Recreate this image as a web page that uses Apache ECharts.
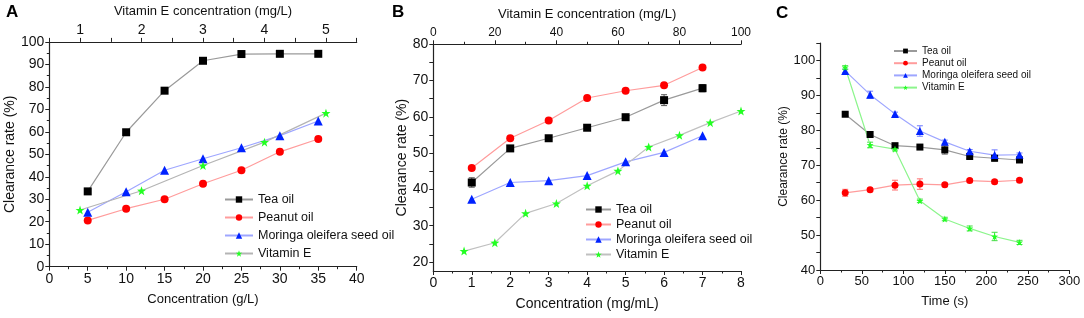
<!DOCTYPE html>
<html>
<head>
<meta charset="utf-8">
<script src="https://cdn.jsdelivr.net/npm/echarts@6/dist/echarts.min.js"></script>
<style>
  html, body { margin: 0; padding: 0; background: #fff; }
  #chart { width: 1084px; height: 318px; }
</style>
</head>
<body>
<div id="chart"></div>
<script>
// ---- data ----
// panel A (oils on bottom axis g/L, vitamin E on top axis mg/L)
let concA = [5, 10, 15, 20, 25, 30, 35];
let teaA = [33.5, 59.8, 78.3, 91.6, 94.6, 94.7, 94.7];
let peanutA = [20.6, 25.8, 30.0, 36.9, 42.9, 51.1, 56.8];
let moringaA = [24.2, 33.3, 42.9, 48.0, 52.9, 58.3, 64.8];
let vitEConcA = [1, 2, 3, 4, 5];
let vitEA = [25.2, 33.8, 45.0, 55.4, 68.3];

// panel B (oils on bottom axis mg/mL, vitamin E on top axis mg/L)
let concB = [1, 2, 3, 4, 5, 6, 7];
let teaB = [41.9, 51.3, 54.1, 57.0, 59.9, 64.6, 67.9];
let teaErrB = [1.3, 0.5, 0.6, 0.4, 0.5, 1.5, 1.0];
let peanutB = [45.9, 54.1, 59.0, 65.2, 67.2, 68.7, 73.6];
let moringaB = [37.3, 41.9, 42.4, 43.8, 47.6, 50.2, 54.8];
let vitEConcB = [10, 20, 30, 40, 50, 60, 70, 80, 90, 100];
let vitEB = [23.0, 25.3, 33.4, 36.1, 41.0, 45.1, 51.7, 54.9, 58.4, 61.6];

// panel C (time course)
let timeC = [30, 60, 90, 120, 150, 180, 210, 240];
let teaC = [84.6, 78.8, 75.6, 75.2, 74.4, 72.5, 72.0, 71.5];
let teaErrC = [0.4, 0.8, 0.5, 0.3, 1.2, 0.5, 0.8, 0.4];
let peanutC = [62.1, 63.0, 64.3, 64.6, 64.4, 65.6, 65.3, 65.7];
let peanutErrC = [1.0, 0.5, 1.4, 1.5, 0.5, 0.5, 0.5, 0.5];
let moringaC = [97.0, 90.2, 84.7, 79.8, 76.7, 74.0, 72.9, 73.0];
let moringaErrC = [0.5, 1.0, 0.5, 1.5, 0.5, 0.5, 1.5, 0.5];
let vitEC = [98.0, 75.8, 74.6, 59.8, 54.6, 51.9, 49.6, 47.9];
let vitEErrC = [0.5, 0.8, 0.5, 0.5, 0.5, 0.7, 1.2, 0.6];

// tick labels
let yTicksB = [20, 30, 40, 50, 60, 70, 80];
let yMinorB = [20, 25, 30, 35, 40, 45, 50, 55, 60, 65, 70, 75, 80];
let topLabelsA = [1, 2, 3, 4, 5];
let topTicksA = [0.5, 1, 1.5, 2, 2.5, 3, 3.5, 4, 4.5, 5, 5.5];
let yTicksC = [40, 50, 60, 70, 80, 90, 100];
let yMinorC = [40, 45, 50, 55, 60, 65, 70, 75, 80, 85, 90, 95, 100, 105];

let names = ['Tea oil', 'Peanut oil', 'Moringa oleifera seed oil', 'Vitamin E'];

var chart = echarts.init(document.getElementById('chart'));
var font = 'Arial, "Liberation Sans", sans-serif';
var axisCol = '#222';
var star = 'path://M0,-10 L2.4,-3.2 9.5,-3.1 3.8,1.2 5.9,8.1 0,4 -5.9,8.1 -3.8,1.2 -9.5,-3.1 -2.4,-3.2 Z';

function pairs(xs, ys) {
    return xs.map(function (x, i) { return [x, ys[i]]; });
}
function errPairs(xs, ys, es) {
    return xs.map(function (x, i) { return [x, ys[i] - es[i], ys[i] + es[i]]; });
}

function axisBase(extra) {
    var a = {
        type: 'value',
        splitLine: { show: false },
        axisLine: { show: true, onZero: false, lineStyle: { color: axisCol, width: 1.2 } },
        axisTick: { show: true, inside: false, length: 4, lineStyle: { color: axisCol } },
        minorTick: { show: true, splitNumber: 2, length: 2.5, lineStyle: { color: axisCol } },
        axisLabel: { color: '#111', fontSize: 14, fontFamily: font, margin: 5 },
        nameTextStyle: { color: '#111', fontSize: 13, fontFamily: font },
        nameLocation: 'middle'
    };
    return Object.assign(a, extra);
}

function lineSeries(name, data, color, lineColor, symbol, size, xi, yi) {
    return {
        name: name, type: 'line', data: data,
        xAxisIndex: xi, yAxisIndex: yi,
        symbol: symbol, symbolSize: size,
        itemStyle: { color: color },
        lineStyle: { color: lineColor, width: 1.2 },
        z: 3, animation: false
    };
}

// error bars drawn as a custom series
function errSeries(data, color, xi, yi) {
    return {
        type: 'custom', xAxisIndex: xi, yAxisIndex: yi, data: data, z: 2,
        animation: false, silent: true,
        renderItem: function (params, api) {
            var top = api.coord([api.value(0), api.value(2)]);
            var bot = api.coord([api.value(0), api.value(1)]);
            var w = 3;
            var st = { stroke: color, lineWidth: 1 };
            return {
                type: 'group', children: [
                    { type: 'line', shape: { x1: top[0], y1: top[1], x2: bot[0], y2: bot[1] }, style: st },
                    { type: 'line', shape: { x1: top[0] - w, y1: top[1], x2: top[0] + w, y2: top[1] }, style: st },
                    { type: 'line', shape: { x1: bot[0] - w, y1: bot[1], x2: bot[0] + w, y2: bot[1] }, style: st }
                ]
            };
        }
    };
}

function legend(prefix, left, top, itemW, itemH, gap, fs) {
    return {
        left: left, top: top, orient: 'vertical', padding: 0,
        itemWidth: itemW, itemHeight: itemH, itemGap: gap,
        data: names.map(function (n) { return prefix + n; }),
        formatter: function (n) { return n.slice(prefix.length); },
        textStyle: { color: '#111', fontSize: fs, fontFamily: font },
        selectedMode: false
    };
}

var option = {
    backgroundColor: '#fff',
    animation: false,
    grid: [
        { left: 49.3, top: 39.7, width: 307.4, height: 227 },
        { left: 433.3, top: 44.3, width: 307.7, height: 226.7 },
        { left: 820.3, top: 43, width: 249, height: 227 }
    ],
    xAxis: [
        axisBase({ gridIndex: 0, position: 'bottom', min: 0, max: 40, interval: 5,
            name: 'Concentration (g/L)', nameGap: 26 }),
        axisBase({ gridIndex: 0, position: 'top', min: 0.5, max: 5.5,
            name: 'Vitamin E concentration (mg/L)', nameGap: 21,
            minorTick: { show: false },
            axisTick: { show: true, length: 4, lineStyle: { color: axisCol }, customValues: topTicksA },
            axisLabel: { color: '#111', fontSize: 14, fontFamily: font, margin: 5, customValues: topLabelsA } }),
        axisBase({ gridIndex: 1, position: 'bottom', min: 0, max: 8, interval: 1,
            name: 'Concentration (mg/mL)', nameGap: 26,
            nameTextStyle: { color: '#111', fontSize: 14, fontFamily: font } }),
        axisBase({ gridIndex: 1, position: 'top', min: 0, max: 100, interval: 20,
            name: 'Vitamin E concentration (mg/L)', nameGap: 22,
            axisLabel: { color: '#111', fontSize: 12, fontFamily: font, margin: 6 } }),
        axisBase({ gridIndex: 2, position: 'bottom', min: 0, max: 300, interval: 50,
            name: 'Time (s)', nameGap: 25,
            axisLabel: { color: '#111', fontSize: 13, fontFamily: font, margin: 5 } })
    ],
    yAxis: [
        axisBase({ gridIndex: 0, min: 0, max: 100, interval: 10,
            name: 'Clearance rate (%)', nameGap: 29,
            nameTextStyle: { color: '#111', fontSize: 14, fontFamily: font } }),
        axisBase({ gridIndex: 1, min: 17.5, max: 80,
            name: 'Clearance rate (%)', nameGap: 24,
            nameTextStyle: { color: '#111', fontSize: 14, fontFamily: font },
            minorTick: { show: false },
            axisTick: { show: true, length: 4, lineStyle: { color: axisCol }, customValues: yMinorB },
            axisLabel: { color: '#111', fontSize: 14, fontFamily: font, margin: 5, customValues: yTicksB } }),
        axisBase({ gridIndex: 2, min: 40, max: 105,
            name: 'Clearance rate (%)', nameGap: 28,
            nameTextStyle: { color: '#111', fontSize: 12, fontFamily: font },
            minorTick: { show: false },
            axisTick: { show: true, length: 4, lineStyle: { color: axisCol }, customValues: yMinorC },
            axisLabel: { color: '#111', fontSize: 13, fontFamily: font, margin: 5, customValues: yTicksC } })
    ],
    legend: [
        legend('A:', 224, 193, 28, 8, 5, 12.5),
        legend('B:', 585, 203, 25, 8, 2, 12.5),
        legend('C:', 893, 46, 23, 6, 2.2, 10)
    ],
    graphic: [
        { type: 'text', left: 6, top: 4, style: { text: 'A', font: 'bold 17px ' + font, fill: '#000' } },
        { type: 'text', left: 392, top: 4, style: { text: 'B', font: 'bold 17px ' + font, fill: '#000' } },
        { type: 'text', left: 776, top: 5, style: { text: 'C', font: 'bold 17px ' + font, fill: '#000' } }
    ],
    series: [
        // panel A
        lineSeries('A:Tea oil', pairs(concA, teaA), '#000', '#9a9a9a', 'rect', 8, 0, 0),
        lineSeries('A:Peanut oil', pairs(concA, peanutA), '#ff0000', '#ff9c9c', 'circle', 8, 0, 0),
        lineSeries('A:Moringa oleifera seed oil', pairs(concA, moringaA), '#0022ff', '#9ea6ff', 'triangle', 9, 0, 0),
        lineSeries('A:Vitamin E', pairs(vitEConcA, vitEA), '#22ff22', '#b4b4b4', star, 9, 1, 0),
        // panel B
        errSeries(errPairs(concB, teaB, teaErrB), '#555', 2, 1),
        lineSeries('B:Tea oil', pairs(concB, teaB), '#000', '#9a9a9a', 'rect', 8, 2, 1),
        lineSeries('B:Peanut oil', pairs(concB, peanutB), '#ff0000', '#ff9c9c', 'circle', 8, 2, 1),
        lineSeries('B:Moringa oleifera seed oil', pairs(concB, moringaB), '#0022ff', '#9ea6ff', 'triangle', 9, 2, 1),
        lineSeries('B:Vitamin E', pairs(vitEConcB, vitEB), '#22ff22', '#c0c0c0', star, 9, 3, 1),
        // panel C
        errSeries(errPairs(timeC, teaC, teaErrC), '#555', 4, 2),
        errSeries(errPairs(timeC, peanutC, peanutErrC), '#ff7070', 4, 2),
        errSeries(errPairs(timeC, moringaC, moringaErrC), '#6f7bff', 4, 2),
        errSeries(errPairs(timeC, vitEC, vitEErrC), '#44dd44', 4, 2),
        lineSeries('C:Tea oil', pairs(timeC, teaC), '#000', '#9a9a9a', 'rect', 7, 4, 2),
        lineSeries('C:Peanut oil', pairs(timeC, peanutC), '#ff0000', '#ff9c9c', 'circle', 7, 4, 2),
        lineSeries('C:Moringa oleifera seed oil', pairs(timeC, moringaC), '#0022ff', '#9ea6ff', 'triangle', 8, 4, 2),
        lineSeries('C:Vitamin E', pairs(timeC, vitEC), '#22ff22', '#8cf58c', star, 7, 4, 2)
    ]
};

chart.setOption(option);
</script>
</body>
</html>
